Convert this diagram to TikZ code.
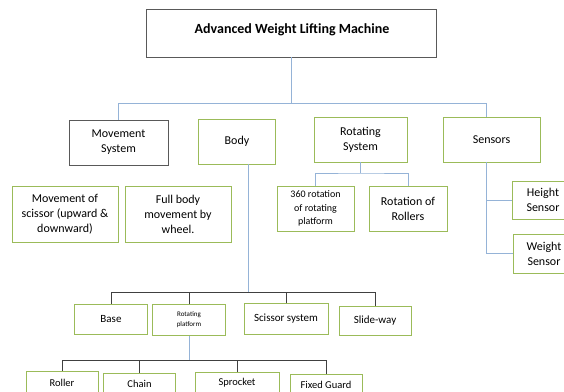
\documentclass[tikz,border=0pt]{standalone}
\usepackage{fontspec}
\setmainfont{Carlito}
\definecolor{boxgreen}{RGB}{155,187,89}
\definecolor{boxgray}{RGB}{89,89,89}
\definecolor{lineblue}{RGB}{149,179,215}
\definecolor{linedark}{RGB}{64,64,64}
\tikzset{
  gbox/.style={draw=boxgreen, line width=0.8pt, align=center, inner sep=1pt,
    font=\fontsize{12}{15}\selectfont},
  kbox/.style={gbox, draw=boxgray},
  bline/.style={draw=lineblue, line width=0.8pt},
  dline/.style={draw=linedark, line width=0.8pt}
}
\begin{document}
\begin{tikzpicture}[x=1pt, y=-1pt]
    \clip (0,0) rectangle (564,391);
    \fill[white] (0,0) rectangle (564,391);

    % Top level
    \node[kbox, minimum width=290, minimum height=48] (top) at (291,33) {};
    \node[font=\fontsize{14}{16}\selectfont\bfseries] (title) at (292,29.5) {Advanced Weight Lifting Machine};

    % Second level
    \node[kbox, minimum width=99, minimum height=45] (move) at (118.5,142.5) {Movement\\System};
    \node[gbox, minimum width=77, minimum height=45] (body) at (237,141.5) {Body};
    \node[gbox, minimum width=93, minimum height=45] (rot) at (360.5,139.5) {Rotating\\System};
    \node[gbox, minimum width=97, minimum height=45] (sens) at (491.5,139.5) {Sensors};

    % Third level
    \node[gbox, minimum width=106, minimum height=56] (scis) at (65,214) {Movement of\\scissor (upward \&\\downward)};
    \node[gbox, minimum width=106, minimum height=56] (full) at (178,214) {Full body\\movement by\\wheel.};
    \node[gbox, minimum width=77, minimum height=45, font=\fontsize{10}{13.5}\selectfont] (rsix) at (315.5,208.5) {360 rotation\\of rotating\\platform};
    \node[gbox, minimum width=78, minimum height=45] (rrol) at (408,208.5) {Rotation of\\Rollers};
    \node[gbox, minimum width=62, minimum height=38] (hgt) at (543,200) {Height\\Sensor};
    \node[gbox, minimum width=62, minimum height=39] (wgt) at (544,253.5) {Weight\\Sensor};

    % Parts of the body
    \node[gbox, minimum width=72.5, minimum height=30, font=\fontsize{11}{13}\selectfont] (base) at (111,319) {Base};
    \node[gbox, minimum width=72.5, minimum height=31, font=\fontsize{7}{10}\selectfont] (rotp) at (189,320) {Rotating\\platform};
    \node[gbox, minimum width=84, minimum height=30.5, font=\fontsize{11}{13}\selectfont] (sciss) at (286,319) {Scissor system};
    \node[gbox, minimum width=72, minimum height=29, font=\fontsize{11}{13}\selectfont] (slide) at (375,321) {Slide-way};

    % Parts of the rotating platform
    \node[gbox, minimum width=72, minimum height=24, font=\fontsize{10.5}{13}\selectfont] (roll) at (62,383) {Roller};
    \node[gbox, minimum width=72, minimum height=22, font=\fontsize{10.5}{13}\selectfont] (chain) at (139.5,384) {Chain};
    \node[gbox, minimum width=84, minimum height=22, font=\fontsize{10.5}{13}\selectfont] (sprk) at (237,383) {Sprocket};
    \node[gbox, minimum width=72, minimum height=22, font=\fontsize{10.5}{13}\selectfont] (guard) at (326,385) {Fixed Guard};

    % Bus points
    \coordinate (tbus) at (291,103);
    \coordinate (sbus) at (486,103);
    \coordinate (rbus) at (360.5,173);
    \coordinate (bbus) at (248,292.5);
    \coordinate (pbus) at (189,360.4);

    % Connectors
    \draw[bline] (top.south) -- (tbus);
    \draw[bline] (move.north) |- (sbus) -- (sbus |- sens.north);
    \draw[bline] (rot.south) -- (rbus);
    \draw[bline] (rsix.north) |- (rbus) -| (rrol.north);
    \draw[bline] (sbus |- sens.south) |- (hgt.west);
    \draw[bline] (sbus |- sens.south) |- (wgt.west);
    \draw[bline] (bbus |- body.south) -- (bbus);
    \draw[dline] (base.north) |- (bbus) -| (slide.north);
    \draw[dline] (rotp.north) -- (rotp.north |- bbus);
    \draw[dline] (sciss.north) -- (sciss.north |- bbus);
    \draw[bline] (rotp.south) -- (pbus);
    \draw[dline] (roll.north) |- (pbus) -| (guard.north);
    \draw[dline] (chain.north) -- (chain.north |- pbus);
    \draw[dline] (sprk.north) -- (sprk.north |- pbus);
\end{tikzpicture}
\end{document}
